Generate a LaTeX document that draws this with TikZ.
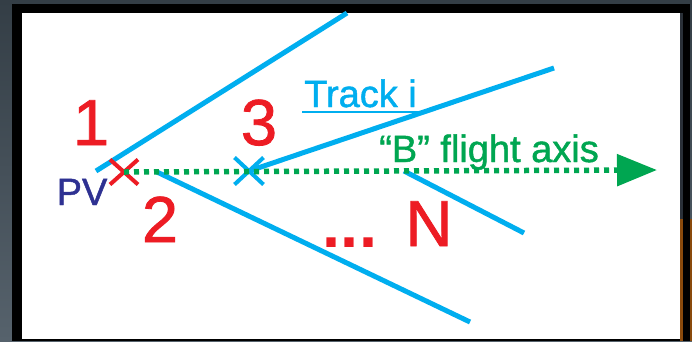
\documentclass[tikz,border=0pt]{standalone}
\usepackage{fontspec}
\setmainfont{Liberation Sans}
\newfontfamily\heavysans[FakeBold=1.2]{Liberation Sans}
\usetikzlibrary{arrows.meta,shapes.misc,calc}
\definecolor{trackblue}{HTML}{00AEEF}
\definecolor{vtxred}{HTML}{ED1C24}
\definecolor{axisgreen}{HTML}{00A651}
\definecolor{pvblue}{HTML}{2E3192}
\definecolor{slatetop}{HTML}{343E46}
\definecolor{slatelow}{HTML}{56626C}
\definecolor{rimgray}{HTML}{2A3038}
\definecolor{rimbrown}{HTML}{8A4A0C}

\begin{document}
\begin{tikzpicture}[x=1pt,y=-1pt,
  track/.style={trackblue,line width=5pt},
  vtx/.style={cross out,draw,line width=4pt,inner sep=0pt},
  bigdigit/.style={vtxred,font=\heavysans\fontsize{65}{65}\selectfont,inner sep=0pt,anchor=base},
  lbl/.style={font=\heavysans\fontsize{38}{38}\selectfont,inner sep=0pt,anchor=base west}]

  % frame: slate surround, black mat, white panel
  \shade[top color=slatetop,bottom color=slatelow] (0,0) rectangle (692,341);
  \useasboundingbox (0,0) rectangle (692,341);
  \fill[black] (12,4) rectangle (690,341);
  \fill[rimgray] (680.3,12.7) rectangle (683,219);
  \fill[rimbrown] (680.3,219) rectangle (683,341);
  \fill[rimbrown] (690,219) rectangle (692,341);
  \fill[white] (21.5,12.7) rectangle (680.3,338.5);

  % vertices and track end points
  \coordinate (t1a) at (96,171);
  \coordinate (t1b) at (347,13);
  \coordinate (t2a) at (157,172);
  \coordinate (t2b) at (470,322);
  \coordinate (t3b) at (554,68);
  \coordinate (t4a) at (404,171);
  \coordinate (t4b) at (524,233);
  \coordinate (tip) at (657,170);

  % tracks
  \draw[track] (t1a) -- (t1b);
  \draw[track] (t2a) -- (t2b);
  \draw[track] (t4a) -- (t4b);

  % flight axis
  \node[vtx,vtxred,minimum width=24pt,minimum height=21pt] (pv) at (124,172) {};
  \node[vtx,trackblue,minimum width=25pt,minimum height=23pt] (sv) at (249,171) {};
  \draw[track] (sv.center) -- (t3b);
  \draw[axisgreen,line width=5.5pt,dash pattern=on 5pt off 5pt,
        -{Triangle[length=40pt,width=31pt]}] (pv.center) -- (tip);

  % labels
  \node[bigdigit] (n1) at (91,145) {1};
  \node[bigdigit] (n2) at (160,242) {2};
  \node[bigdigit] (n3) at (259,145) {3};
  \node[bigdigit,font=\fontsize{65}{65}\selectfont\bfseries] (dots) at (350,247) {...};
  \node[bigdigit] (nN) at (429,246) {N};
  \node[lbl,pvblue,anchor=base] (pvl) at (82,205) {PV};
  \node[lbl,trackblue] (trk) at (304,107) {Track i};
  \draw[trackblue,line width=2.5pt] ($(trk.base west)+(-2,5)$) -- ($(trk.base east)+(1,5)$);
  \node[lbl,axisgreen] (ax) at (379,162) {“B” flight axis};
\end{tikzpicture}
\end{document}
